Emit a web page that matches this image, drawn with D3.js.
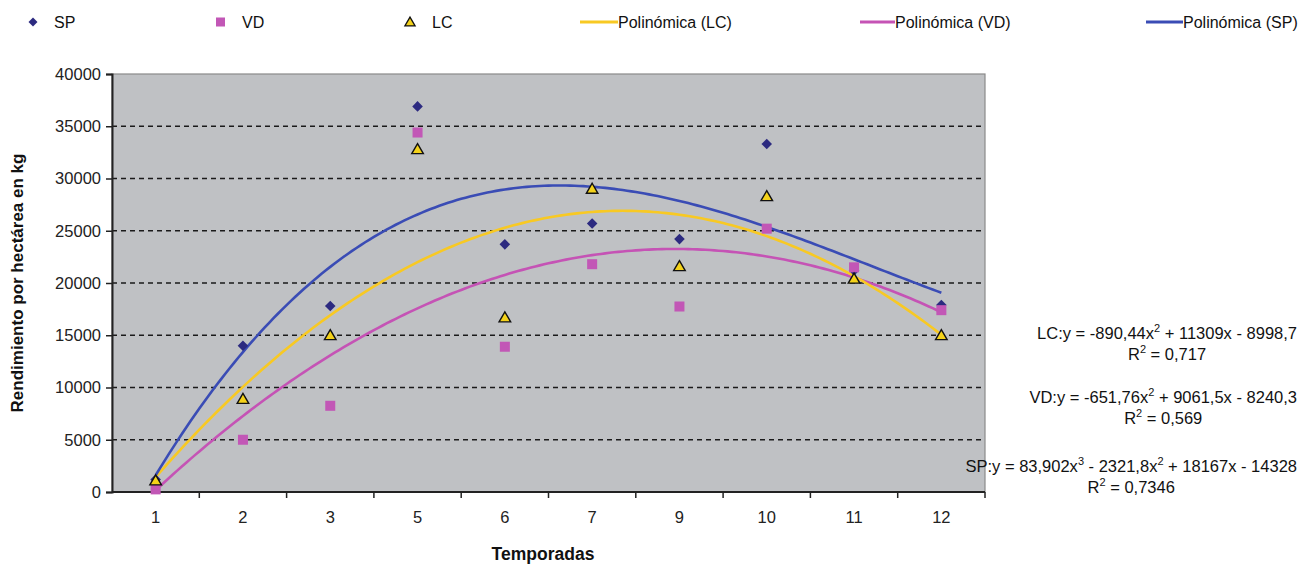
<!DOCTYPE html>
<html>
<head>
<meta charset="utf-8">
<script src="https://cdn.jsdelivr.net/npm/d3@7"></script>
<style>
  html, body { margin: 0; padding: 0; background: #ffffff; }
  svg { display: block; font-family: "Liberation Sans", Arial, sans-serif; }
</style>
</head>
<body>
<svg id="chart" width="1299" height="565"></svg>
<script>
// Seasons (categories along the x axis)
const seasons = ["1", "2", "3", "5", "6", "7", "9", "10", "11", "12"];

// Yield per hectare (kg) for each variety
const spValues = [1200, 14000, 17800, 36900, 23700, 25700, 24200, 33300, 21200, 17900];
const vdValues = [250, 5000, 8250, 34400, 13900, 21800, 17750, 25200, 21500, 17400];
const lcValues = [1100, 8900, 15000, 32800, 16700, 29000, 21600, 28300, 20400, 15000];

// Polynomial trend coefficients (highest power first), x = season index 1..10
const lcCoef = [-890.44, 11309, -8998.7];
const vdCoef = [-651.76, 9061.5, -8240.3];
const spCoef = [83.902, -2321.8, 18167, -14328];

// Y axis ticks
const yTicks = [0, 5000, 10000, 15000, 20000, 25000, 30000, 35000, 40000];

const colors = {
  sp: "#2c2a80",
  vd: "#c257b6",
  lc: "#f4d21a",
  lcLine: "#f8c923",
  vdLine: "#c553b5",
  spLine: "#3a4cb5"
};

const svg = d3.select("#chart");
const plot = { left: 112, right: 985, top: 74, bottom: 492 };

const x = d3.scaleBand().domain(seasons).range([plot.left, plot.right]).paddingInner(0).paddingOuter(0);
const y = d3.scaleLinear().domain([0, 40000]).range([plot.bottom, plot.top]);
const cx = d => x(d) + x.bandwidth() / 2;
// continuous index scale for the trend curves
const xi = d3.scaleLinear().domain([1, seasons.length]).range([cx(seasons[0]), cx(seasons[seasons.length - 1])]);

// plot background
svg.append("rect")
  .attr("x", plot.left).attr("y", plot.top)
  .attr("width", plot.right - plot.left).attr("height", plot.bottom - plot.top)
  .attr("fill", "#bfc1c4")
  .attr("stroke", "#8a8a8a").attr("stroke-width", 1.2);

// dashed gridlines
svg.append("g")
  .selectAll("line")
  .data(yTicks.filter(t => t > 0 && t < 40000))
  .join("line")
  .attr("x1", plot.left).attr("x2", plot.right)
  .attr("y1", d => y(d)).attr("y2", d => y(d))
  .attr("stroke", "#1a1a1a").attr("stroke-width", 1.3)
  .attr("stroke-dasharray", "5,4");

// y axis
const yAxis = svg.append("g")
  .attr("transform", `translate(${plot.left},0)`)
  .call(d3.axisLeft(y).tickValues(yTicks).tickSize(6).tickPadding(5).tickFormat(d3.format("d")));
yAxis.select(".domain").attr("stroke", "#222").attr("stroke-width", 2);
yAxis.selectAll(".tick line").attr("stroke", "#222").attr("stroke-width", 1.5);
yAxis.selectAll(".tick text")
  .attr("font-size", 16.5).attr("fill", "#222")
  .attr("font-family", "Liberation Sans, Arial, sans-serif");

// x axis: labels centred in bands, ticks at band boundaries
const xAxisG = svg.append("g").attr("transform", `translate(0,${plot.bottom})`);
xAxisG.append("line")
  .attr("x1", plot.left).attr("x2", plot.right)
  .attr("y1", 0).attr("y2", 0)
  .attr("stroke", "#222").attr("stroke-width", 2);
const bounds = seasons.map(s => x(s)).concat([plot.right]).slice(1);
xAxisG.selectAll(".xtick")
  .data(bounds)
  .join("line")
  .attr("class", "xtick")
  .attr("x1", d => d).attr("x2", d => d)
  .attr("y1", 0).attr("y2", 6)
  .attr("stroke", "#222").attr("stroke-width", 1.5);
xAxisG.selectAll(".xlabel")
  .data(seasons)
  .join("text")
  .attr("class", "xlabel")
  .attr("x", d => cx(d)).attr("y", 31)
  .attr("text-anchor", "middle")
  .attr("font-size", 16.5).attr("fill", "#222")
  .text(d => d);

// axis titles
svg.append("text")
  .attr("transform", `translate(23,${(plot.top + plot.bottom) / 2}) rotate(-90)`)
  .attr("text-anchor", "middle")
  .attr("font-size", 17).attr("font-weight", "bold").attr("fill", "#111")
  .text("Rendimiento por hectárea en kg");
svg.append("text")
  .attr("x", 543).attr("y", 560)
  .attr("text-anchor", "middle")
  .attr("font-size", 17.5).attr("font-weight", "bold").attr("fill", "#111")
  .text("Temporadas");

// trend curves
const poly = coef => t => coef.reduce((acc, c) => acc * t + c, 0);
const samples = d3.range(1, seasons.length + 0.0001, 0.05);
const line = f => d3.line().x(t => xi(t)).y(t => y(f(t)));
const curves = svg.append("g").attr("fill", "none").attr("stroke-width", 2.6).attr("stroke-linejoin", "round");
curves.append("path").attr("d", line(poly(vdCoef))(samples)).attr("stroke", colors.vdLine);
curves.append("path").attr("d", line(poly(lcCoef))(samples)).attr("stroke", colors.lcLine);
curves.append("path").attr("d", line(poly(spCoef))(samples)).attr("stroke", colors.spLine);

// markers
const tri = d3.symbol().type(d3.symbolTriangle).size(58);

svg.append("g").selectAll("path")
  .data(seasons.map((s, i) => [s, spValues[i]]))
  .join("path")
  .attr("transform", d => `translate(${cx(d[0])},${y(d[1])}) rotate(45)`)
  .attr("d", d3.symbol().type(d3.symbolSquare).size(56)())
  .attr("fill", colors.sp);

svg.append("g").selectAll("rect")
  .data(seasons.map((s, i) => [s, vdValues[i]]))
  .join("rect")
  .attr("x", d => cx(d[0]) - 5).attr("y", d => y(d[1]) - 5)
  .attr("width", 10).attr("height", 10)
  .attr("fill", colors.vd);

svg.append("g").selectAll("path")
  .data(seasons.map((s, i) => [s, lcValues[i]]))
  .join("path")
  .attr("transform", d => `translate(${cx(d[0])},${y(d[1]) + 1})`)
  .attr("d", tri())
  .attr("fill", colors.lc)
  .attr("stroke", "#111").attr("stroke-width", 1.4);

// legend
const legend = svg.append("g").attr("font-size", 16).attr("fill", "#111");
const ly = 22;
legend.append("path")
  .attr("transform", `translate(33,${ly}) rotate(45)`)
  .attr("d", d3.symbol().type(d3.symbolSquare).size(40)())
  .attr("fill", colors.sp);
legend.append("text").attr("x", 54).attr("y", ly + 5.5).text("SP");
legend.append("rect").attr("x", 216).attr("y", ly - 4.5).attr("width", 9).attr("height", 9).attr("fill", colors.vd);
legend.append("text").attr("x", 242).attr("y", ly + 5.5).text("VD");
legend.append("path")
  .attr("transform", `translate(410,${ly + 1})`)
  .attr("d", d3.symbol().type(d3.symbolTriangle).size(45)())
  .attr("fill", colors.lc).attr("stroke", "#111").attr("stroke-width", 1.3);
legend.append("text").attr("x", 432).attr("y", ly + 5.5).text("LC");

const lineItems = [
  { x0: 580, x1: 618, color: colors.lcLine, label: "Polinómica (LC)" },
  { x0: 860, x1: 895, color: colors.vdLine, label: "Polinómica (VD)" },
  { x0: 1146, x1: 1183, color: colors.spLine, label: "Polinómica (SP)" }
];
lineItems.forEach(it => {
  legend.append("line")
    .attr("x1", it.x0).attr("x2", it.x1).attr("y1", ly).attr("y2", ly)
    .attr("stroke", it.color).attr("stroke-width", 3);
  legend.append("text").attr("x", it.x1).attr("y", ly + 5.5).text(it.label);
});

// trend equations with R²
const eqs = [
  { y: 333, parts: [["LC:y = -890,44x"], ["2", true], [" + 11309x - 8998,7"]], r2: "0,717" },
  { y: 397, parts: [["VD:y = -651,76x"], ["2", true], [" + 9061,5x - 8240,3"]], r2: "0,569" },
  { y: 466, parts: [["SP:y = 83,902x"], ["3", true], [" - 2321,8x"], ["2", true], [" + 18167x - 14328"]], r2: "0,7346" }
];
const eqG = svg.append("g").attr("font-size", 16.5).attr("fill", "#111");
eqs.forEach(eq => {
  const t = eqG.append("text").attr("x", 1297).attr("y", eq.y + 6).attr("text-anchor", "end");
  eq.parts.forEach(p => {
    const ts = t.append("tspan").text(p[0]);
    if (p[1]) ts.attr("font-size", 11).attr("dy", -7);
    else if (t.selectAll("tspan").size() > 1) ts.attr("dy", 7);
  });
  const bb = t.node().getBBox();
  const mid = bb.x + bb.width / 2;
  const r = eqG.append("text").attr("x", mid).attr("y", eq.y + 27).attr("text-anchor", "middle");
  r.append("tspan").text("R");
  r.append("tspan").attr("font-size", 11).attr("dy", -7).text("2");
  r.append("tspan").attr("dy", 7).text(" = " + eq.r2);
});
</script>
</body>
</html>
